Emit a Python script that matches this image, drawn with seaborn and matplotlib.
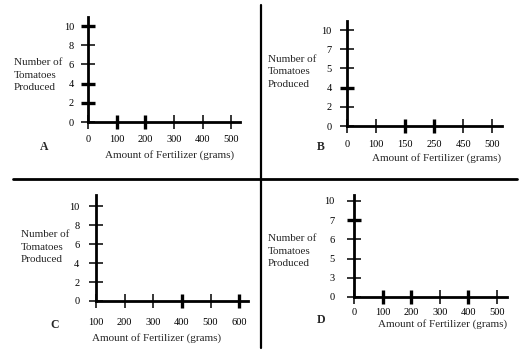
import matplotlib
matplotlib.use("Agg")
import matplotlib.pyplot as plt
import seaborn as sns
from matplotlib.lines import Line2D

# ---- data (tick labels of the four worksheet graphs) ----
panel_letters = ["A", "B", "C", "D"]
x_labels_A = ["0", "100", "200", "300", "400", "500"]
y_labels_A = ["0", "2", "4", "6", "8", "10"]
x_labels_B = ["0", "100", "150", "250", "450", "500"]
y_labels_B = ["0", "2", "4", "5", "7", "10"]
x_labels_C = ["100", "200", "300", "400", "500", "600"]
y_labels_C = ["0", "2", "4", "6", "8", "10"]
x_labels_D = ["0", "100", "200", "300", "400", "500"]
y_labels_D = ["0", "3", "5", "6", "7", "10"]
x_title = "Amount of Fertilizer (grams)"
y_title = "Number of\nTomatoes\nProduced"

sns.set_style("ticks")
plt.rcParams["font.family"] = ["Liberation Serif", "DejaVu Serif"]

W, H = 526, 352
fig = plt.figure(figsize=(W / 100, H / 100), dpi=100)


def fx(x):
    return x / W


def fy(y):
    return 1 - y / H


# layout in pixels: left, right, top, bottom, xmax, ymax, xpad, ypad
layout = {
    "A": dict(l=88, r=240, t=17, b=122, xmax=5.31, ymax=5.47, xpad=4, ypad=5,
              ylab=(14, 75), letter=(44, 147), xl=(170, 155),
              thick_x=[1, 2], thick_y=[1, 2, 5]),
    "B": dict(l=347, r=502, t=21, b=126, xmax=5.34, ymax=5.47, xpad=5, ypad=6,
              ylab=(268, 72), letter=(321, 147), xl=(437, 158),
              thick_x=[2, 3], thick_y=[2]),
    "C": dict(l=96, r=248, t=195, b=301, xmax=5.31, ymax=5.58, xpad=7, ypad=7,
              ylab=(21, 247), letter=(55, 325), xl=(157, 338),
              thick_x=[3, 5], thick_y=[]),
    "D": dict(l=354, r=507, t=195, b=297, xmax=5.35, ymax=5.31, xpad=3, ypad=9,
              ylab=(268, 251), letter=(321, 320), xl=(443, 324),
              thick_x=[1, 2, 4], thick_y=[4]),
}
labels = {
    "A": (x_labels_A, y_labels_A),
    "B": (x_labels_B, y_labels_B),
    "C": (x_labels_C, y_labels_C),
    "D": (x_labels_D, y_labels_D),
}

for key in panel_letters:
    L = layout[key]
    xl, yl = labels[key]
    ax = fig.add_axes([fx(L["l"]), fy(L["b"]), (L["r"] - L["l"]) / W, (L["b"] - L["t"]) / H])
    ax.set_facecolor("none")
    ax.set_xlim(0, L["xmax"])
    ax.set_ylim(0, L["ymax"])
    ax.set_xticks(range(len(xl)), xl)
    ax.set_yticks(range(len(yl)), yl)
    sns.despine(ax=ax)
    for s in ("left", "bottom"):
        ax.spines[s].set_linewidth(2)
        ax.spines[s].set_color("black")
    ax.tick_params(axis="both", direction="inout", length=10, width=1.1,
                   colors="black", labelsize=7.5)
    ax.tick_params(axis="x", pad=L["xpad"])
    ax.tick_params(axis="y", pad=L["ypad"])
    for i in L["thick_x"]:
        ax.xaxis.get_major_ticks()[i].tick1line.set_markeredgewidth(2.4)
    for i in L["thick_y"]:
        ax.yaxis.get_major_ticks()[i].tick1line.set_markeredgewidth(2.4)
    fig.text(fx(L["ylab"][0]), fy(L["ylab"][1]), y_title, ha="left", va="center",
             fontsize=8, linespacing=1.45)
    fig.text(fx(L["letter"][0]), fy(L["letter"][1]), key, ha="center", va="center",
             fontsize=8.5, fontweight="bold")
    fig.text(fx(L["xl"][0]), fy(L["xl"][1]), x_title, ha="center", va="center",
             fontsize=8)

# dividing lines of the worksheet
fig.add_artist(Line2D([fx(13), fx(517)], [fy(178.5), fy(178.5)], color="black",
                      linewidth=2.0, transform=fig.transFigure))
fig.add_artist(Line2D([fx(261), fx(261)], [fy(5), fy(348)], color="black",
                      linewidth=1.6, transform=fig.transFigure))

fig.savefig("out.png", dpi=100, facecolor="white")
